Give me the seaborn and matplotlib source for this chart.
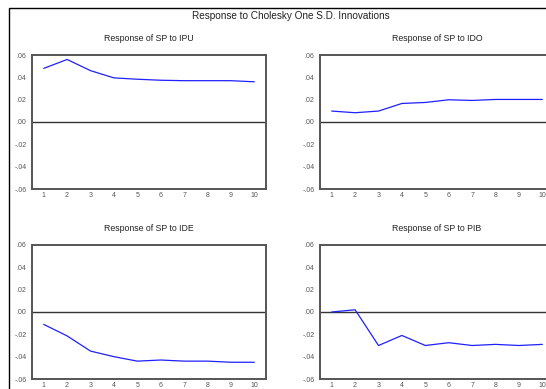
import numpy as np
import pandas as pd
import matplotlib
matplotlib.use("Agg")
import matplotlib.pyplot as plt
from matplotlib.patches import Rectangle
from matplotlib.ticker import FixedLocator, FuncFormatter
import seaborn as sns

periods = [1, 2, 3, 4, 5, 6, 7, 8, 9, 10]
sp_to_ipu = [0.048, 0.056, 0.046, 0.0395, 0.0383, 0.0374, 0.037, 0.037, 0.037, 0.036]
sp_to_ido = [0.0098, 0.0083, 0.0098, 0.0166, 0.0175, 0.0199, 0.0193, 0.0202, 0.0202, 0.0202]
sp_to_ide = [-0.0111, -0.0214, -0.035, -0.040, -0.044, -0.043, -0.044, -0.044, -0.045, -0.045]
sp_to_pib = [0.000, 0.002, -0.030, -0.021, -0.030, -0.0275, -0.030, -0.029, -0.030, -0.029]

titles = ["Response of SP to IPU", "Response of SP to IDO",
          "Response of SP to IDE", "Response of SP to PIB"]
series = [sp_to_ipu, sp_to_ido, sp_to_ide, sp_to_pib]
yticks = [-0.06, -0.04, -0.02, 0.0, 0.02, 0.04, 0.06]

sns.set_style("white")
plt.rcParams['font.family'] = ['Liberation Sans', 'DejaVu Sans']

W, H = 546, 389
fig = plt.figure(figsize=(W / 100, H / 100), dpi=100)

def box(px_left, px_top, px_right, px_bottom):
    return [px_left / W, 1 - px_bottom / H, (px_right - px_left) / W, (px_bottom - px_top) / H]

positions = [box(32, 55, 266, 189), box(320, 55, 554, 189),
             box(32, 245, 266, 379), box(320, 245, 554, 379)]

# outer frame (cropped on right/bottom like the reference)
fig.patches.append(Rectangle((9 / W, -0.2), 2.0, 1.2 - 8 / H, transform=fig.transFigure,
                             fill=False, edgecolor="black", linewidth=1.0))
fig.text(291 / W, 1 - 16 / H, "Response to Cholesky One S.D. Innovations",
         ha="center", va="center", fontsize=7.2, color="#222222")

def fmt(v, pos):
    s = "%.2f" % v
    s = s.replace("0.", ".")
    if s == "-.00":
        s = ".00"
    return s

for pos, title, vals in zip(positions, titles, series):
    ax = fig.add_axes(pos)
    df = pd.DataFrame({"period": periods, "resp": vals})
    ax.axhline(0, color="#333333", linewidth=1.0, zorder=1)
    sns.lineplot(data=df, x="period", y="resp", ax=ax, color="#2020ff", linewidth=0.9, zorder=2)
    ax.set_xlim(0.5, 10.5)
    ax.set_ylim(-0.06, 0.06)
    ax.set_xlabel("")
    ax.set_ylabel("")
    ax.set_title(title, fontsize=6.3, color="#222222", pad=10)
    ax.xaxis.set_major_locator(FixedLocator(periods))
    ax.xaxis.set_minor_locator(FixedLocator(np.arange(0.5, 11, 1)))
    ax.set_xticklabels([str(p) for p in periods])
    ax.set_yticks(yticks)
    ax.yaxis.set_major_formatter(FuncFormatter(fmt))
    ax.tick_params(axis="x", which="major", length=0, pad=2, labelsize=5, labelcolor="#555555")
    ax.tick_params(axis="x", which="minor", length=3, width=1, color="#444444", direction="out")
    ax.tick_params(axis="y", which="major", length=3, width=1, color="#444444", direction="out",
                   pad=1, labelsize=5, labelcolor="#555555")
    for sp in ax.spines.values():
        sp.set_visible(True)
        sp.set_color("#555555")
        sp.set_linewidth(1.4)

fig.savefig("out.png", dpi=100)
